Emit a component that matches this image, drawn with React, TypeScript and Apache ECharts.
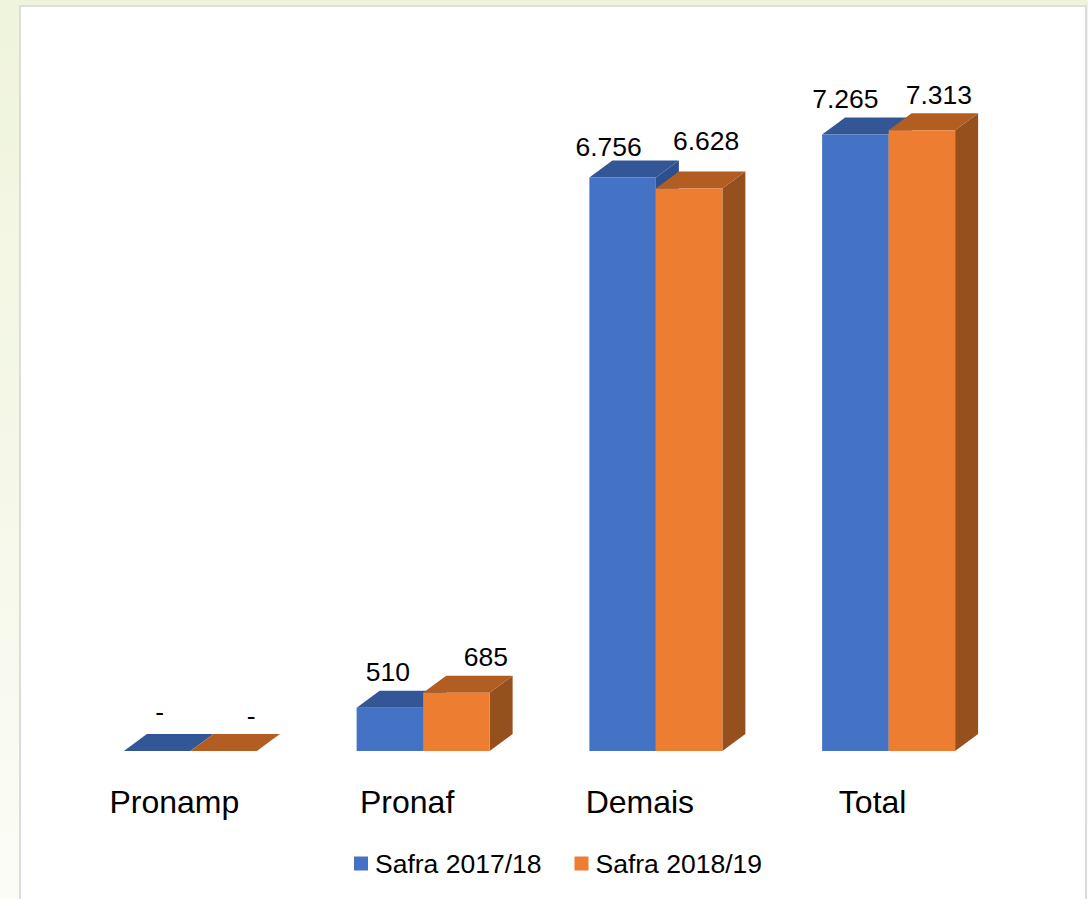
import React, { useEffect, useRef } from "react";
import * as echarts from "echarts";

const categories = ["Pronamp", "Pronaf", "Demais", "Total"];
const safra1718 = [0, 510, 6756, 7265];
const safra1819 = [0, 685, 6628, 7313];
const seriesNames = ["Safra 2017/18", "Safra 2018/19"];

const FONT = '"Liberation Sans", Arial, sans-serif';
const DEPTH_X = 23;
const DEPTH_Y = 17;
const FLOOR_SHIFT = 16;
const BAR_RATIO = 0.2857;

// hand-placed data label nudges, relative to the front face top centre
const labelNudge1 = [[2.5, -39], [-2, -36], [-14, -31], [-10, -35]];
const labelNudge2 = [[27.5, -35], [29.5, -36], [17, -47], [17, -35]];

const palettes = [
  { front: "#4472c4", top: "#335796", side: "#2c4f8d" },
  { front: "#ed7d31", top: "#b25d22", side: "#95501e" },
];

const formatValue = (v: number) =>
  v === 0 ? "-" : v >= 1000 ? `${Math.floor(v / 1000)}.${String(v % 1000).padStart(3, "0")}` : String(v);

const makeRender = (seriesIdx: number, nudges: number[][]) => (params: any, api: any) => {
  const idx = api.value(0);
  const val = api.value(1);
  const base = api.coord([idx, 0]);
  const tip = api.coord([idx, val]);
  const w = api.size([1, 0])[0] * BAR_RATIO;
  const x0 = base[0] + FLOOR_SHIFT + (seriesIdx === 0 ? -w : 0);
  const x1 = x0 + w;
  const yb = base[1];
  const yt = tip[1];
  const p = palettes[seriesIdx];
  const n = nudges[idx];
  return {
    type: "group",
    children: [
      {
        type: "polygon",
        shape: { points: [[x1, yb], [x1 + DEPTH_X, yb - DEPTH_Y], [x1 + DEPTH_X, yt - DEPTH_Y], [x1, yt]] },
        style: { fill: p.side },
      },
      {
        type: "polygon",
        shape: { points: [[x0, yt], [x0 + DEPTH_X, yt - DEPTH_Y], [x1 + DEPTH_X, yt - DEPTH_Y], [x1, yt]] },
        style: { fill: p.top },
      },
      { type: "rect", shape: { x: x0, y: yt, width: w, height: yb - yt }, style: { fill: p.front } },
      {
        type: "text",
        z2: 10,
        style: {
          text: formatValue(val),
          x: (x0 + x1) / 2 + n[0],
          y: yt + n[1],
          align: "center",
          verticalAlign: "middle",
          font: `26.5px ${FONT}`,
          fill: "#000000",
        },
      },
    ],
  };
};

export default function App() {
  const ref = useRef<HTMLDivElement>(null);
  useEffect(() => {
    document.body.style.margin = "0";
    const chart = echarts.init(ref.current!, undefined, { renderer: "svg" });
    chart.setOption({
      animation: false,
      backgroundColor: "transparent",
      grid: { left: 58, top: 72, width: 931, height: 679, containLabel: false },
      xAxis: {
        type: "category",
        data: categories,
        axisLine: { show: false },
        axisTick: { show: false },
        axisLabel: { color: "#000000", fontFamily: FONT, fontSize: 32, margin: 35 },
      },
      yAxis: { type: "value", min: 0, max: 8000, show: false, splitLine: { show: false } },
      legend: {
        left: 349,
        top: 845,
        itemWidth: 14,
        itemHeight: 14,
        itemGap: 33,
        icon: "rect",
        textStyle: { color: "#000000", fontFamily: FONT, fontSize: 26.5, padding: [0, 0, 0, 2] },
        data: seriesNames,
      },
      series: [
        {
          type: "custom",
          name: seriesNames[0],
          itemStyle: { color: palettes[0].front },
          renderItem: makeRender(0, labelNudge1),
          clip: false,
          data: safra1718.map((v, i) => [i, v]),
          encode: { x: 0, y: 1 },
          z: 2,
        },
        {
          type: "custom",
          name: seriesNames[1],
          itemStyle: { color: palettes[1].front },
          renderItem: makeRender(1, labelNudge2),
          clip: false,
          data: safra1819.map((v, i) => [i, v]),
          encode: { x: 0, y: 1 },
          z: 3,
        },
      ],
    });
    return () => chart.dispose();
  }, []);
  return (
    <div
      style={{
        position: "relative",
        width: 1088,
        height: 899,
        overflow: "hidden",
        background: "linear-gradient(180deg, #eff4dc 0%, #f5f8e8 50%, #fbfcf6 100%)",
      }}
    >
      <div
        style={{
          position: "absolute",
          left: 19,
          top: 5,
          width: 1068,
          height: 894,
          background: "#ffffff",
          borderLeft: "2px solid #dcdcdc",
          borderRight: "2px solid #dcdcdc",
          borderTop: "2px solid #dedfd8",
          boxSizing: "border-box",
        }}
      />
      <div ref={ref} style={{ position: "absolute", left: 0, top: 0, width: 1088, height: 899 }} />
    </div>
  );
}
